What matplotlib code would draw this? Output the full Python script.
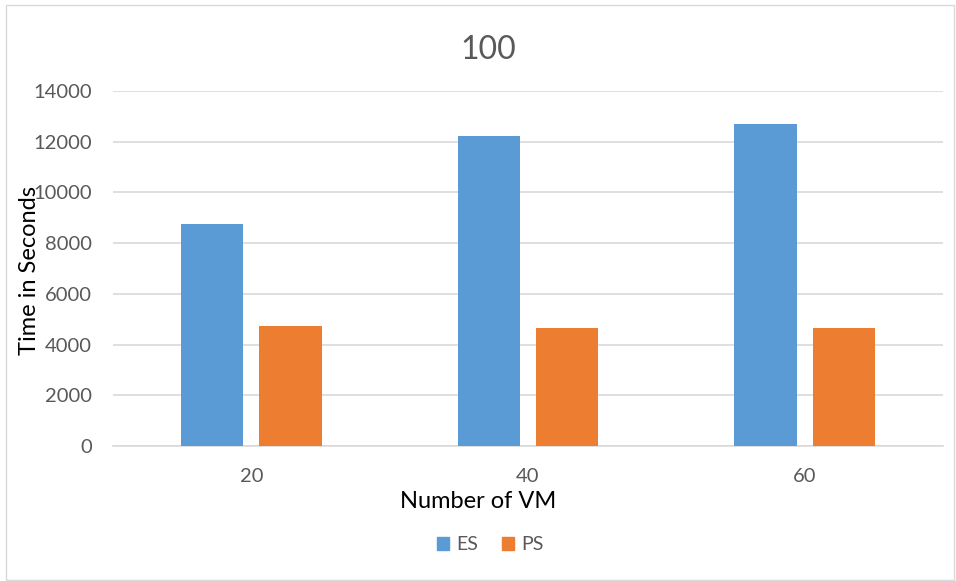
import matplotlib.pyplot as plt
from matplotlib.patches import Rectangle, Patch
import numpy as np

vms = ['20', '40', '60']
es = [8750, 12210, 12710]
ps = [4720, 4650, 4650]

plt.rcParams['font.family'] = ['Lato', 'DejaVu Sans']

fig = plt.figure(figsize=(9.56, 5.81), dpi=100)
fig.patches.append(Rectangle((0.006, 0.002), 0.992, 0.99, transform=fig.transFigure,
                             fill=False, edgecolor='#d9d9d9', linewidth=1))
ax = fig.add_axes([0.1182, 0.2324, 0.8682, 0.611])

x = np.arange(len(vms))
w = 0.225
ax.bar(x - 0.1415, es, w, color='#5b9bd5', label='ES', zorder=3)
ax.bar(x + 0.1415, ps, w, color='#ed7d31', label='PS', zorder=3)

ax.set_xlim(-0.5, 2.5)
ax.set_ylim(0, 14000)
ax.set_yticks(np.arange(0, 14001, 2000))
ax.set_xticks(x)
ax.set_xticklabels(vms)
ax.grid(axis='y', color='#d9d9d9', linewidth=1.2, zorder=0)
for s in ['top', 'right', 'left']:
    ax.spines[s].set_visible(False)
ax.spines['bottom'].set_color('#d9d9d9')
ax.spines['bottom'].set_linewidth(1.2)
ax.tick_params(axis='y', length=0, pad=15, labelsize=14.5, labelcolor='#595959')
ax.tick_params(axis='x', length=0, pad=16, labelsize=14.5, labelcolor='#595959')

fig.text(0.511, 0.914, '100', ha='center', va='center', fontsize=23, color='#595959')
fig.text(0.031, 0.535, 'Time in Seconds', rotation=90, ha='center', va='center', fontsize=17)
fig.text(0.5, 0.136, 'Number of VM', ha='center', va='center', fontsize=17)

handles = [Patch(color='#5b9bd5', label='ES'), Patch(color='#ed7d31', label='PS')]
fig.legend(handles=handles, loc='center', bbox_to_anchor=(0.513, 0.062), ncol=2,
           frameon=False, fontsize=14, handlelength=0.6, handleheight=0.6,
           handletextpad=0.4, columnspacing=1.2, labelcolor='#595959')

plt.savefig('out.png', dpi=100)
